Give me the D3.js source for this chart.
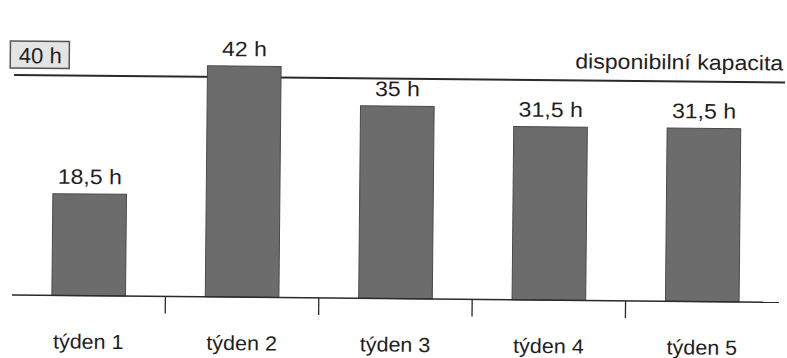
<!DOCTYPE html>
<html>
<head>
<meta charset="utf-8">
<script src="https://cdn.jsdelivr.net/npm/d3@7"></script>
<style>
  html, body { margin: 0; padding: 0; background: #fff; }
  svg { display: block; }
  text { font-family: "Liberation Sans", Arial, sans-serif; fill: #1e1e1e; }
</style>
</head>
<body>
<div id="chart"></div>
<script>
const categories = ["týden 1", "týden 2", "týden 3", "týden 4", "týden 5"];
const hours = [18.5, 42, 35, 31.5, 31.5];
const valueLabels = ["18,5 h", "42 h", "35 h", "31,5 h", "31,5 h"];
const capacity = 40;
const capacityLabel = "40 h";
const capacityText = "disponibilní kapacita";

const W = 787, H = 358;
const baseY = 295, left = 12, right = 779;

const svg = d3.select("#chart").append("svg")
  .attr("width", W).attr("height", H);

// slight scan tilt
const g = svg.append("g").attr("transform", `rotate(0.55, ${left}, ${baseY})`);

const x = d3.scaleBand().domain(categories).range([left, right])
  .paddingInner(0.52).paddingOuter(0.26);
const y = d3.scaleLinear().domain([0, capacity]).range([baseY, baseY - 40 * 5.5]);

function label(sel, tx, ty, str, anchor, size, sx) {
  return sel.append("text")
    .attr("transform", `translate(${tx},${ty}) scale(${sx},1)`)
    .attr("text-anchor", anchor)
    .style("font-size", size + "px")
    .text(str);
}

// capacity line
g.append("line")
  .attr("x1", left).attr("x2", 783)
  .attr("y1", y(capacity)).attr("y2", y(capacity))
  .attr("stroke", "#2a2a2a").attr("stroke-width", 2);

// bars
g.selectAll("rect.bar").data(categories).join("rect")
  .attr("class", "bar")
  .attr("x", d => x(d))
  .attr("width", x.bandwidth())
  .attr("y", (d, i) => y(hours[i]))
  .attr("height", (d, i) => y(0) - y(hours[i]))
  .attr("fill", "#6c6c6c")
  .attr("stroke", "#4a4a4a").attr("stroke-width", 1);

// value labels
categories.forEach((c, i) => {
  label(g, x(c) + x.bandwidth() / 2, y(hours[i]) - 10, valueLabels[i], "middle", 21, 1.1);
});

// baseline axis
g.append("line")
  .attr("x1", left).attr("x2", 779)
  .attr("y1", baseY).attr("y2", baseY)
  .attr("stroke", "#2a2a2a").attr("stroke-width", 1.5);

// ticks between bars
const step = x.step();
categories.slice(0, -1).forEach(c => {
  const tx = x(c) + x.bandwidth() + step * x.paddingInner() / 2;
  g.append("line")
    .attr("x1", tx).attr("x2", tx)
    .attr("y1", baseY).attr("y2", baseY + 17)
    .attr("stroke", "#2a2a2a").attr("stroke-width", 1.3);
});

// category labels
categories.forEach(c => {
  label(g, x(c) + x.bandwidth() / 2, baseY + 53, c, "middle", 20.5, 1.05);
});

// capacity text
label(g, 781, y(capacity) - 12, capacityText, "end", 21, 1.1);

// 40 h box
const box = g.append("g");
box.append("rect")
  .attr("x", 8).attr("y", y(capacity) - 34)
  .attr("width", 59).attr("height", 27)
  .attr("fill", "#e4e4e4").attr("stroke", "#555").attr("stroke-width", 1.5);
label(box, 38, y(capacity) - 12, capacityLabel, "middle", 22, 1.0);
</script>
</body>
</html>
